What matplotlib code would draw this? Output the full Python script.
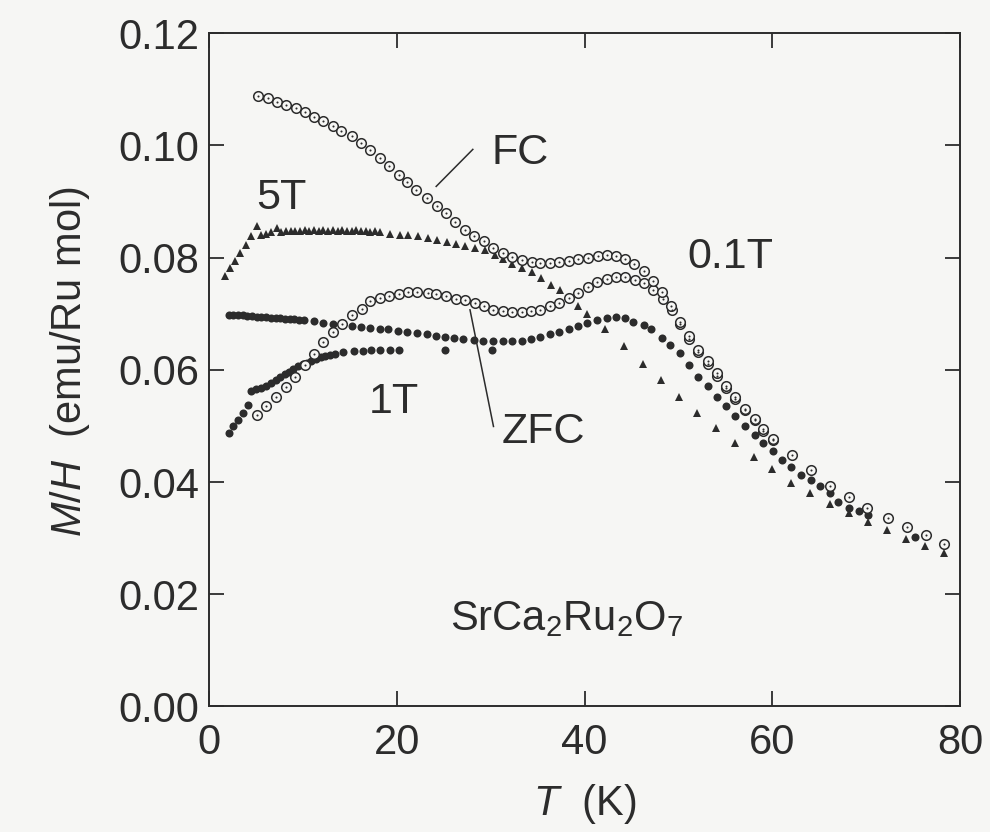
import matplotlib
matplotlib.use("Agg")
import matplotlib.pyplot as plt

plt.rcParams['font.family'] = ['Liberation Sans', 'DejaVu Sans']
plt.rcParams['mathtext.fontset'] = 'custom'
plt.rcParams['mathtext.rm'] = 'Liberation Sans'
plt.rcParams['mathtext.it'] = 'Liberation Sans:italic'

ink = '#2c2c2c'
paper = '#f6f6f4'

# 0.1 T, field cooled (open circles)
T_fc = [5.2, 6.3, 7.3, 8.2, 9.3, 10.2, 11.2, 12.2, 13.2, 14.1,
        15.2, 16.2, 17.2, 18.2, 19.2, 20.2, 21.1, 22.1, 23.2, 24.3,
        25.2, 26.2, 27.3, 28.2, 29.3, 30.3, 31.3, 32.3, 33.3, 34.4,
        35.3, 36.3, 37.3, 38.3, 39.3, 40.4, 41.4, 42.4, 43.3, 44.3,
        45.3, 46.3, 47.3, 48.2, 49.2, 50.2, 51.1, 52.1, 53.1, 54.1,
        55.1, 56.0, 57.1, 58.1, 59.0, 60.1,
        62.1, 64.1, 66.1, 68.2, 70.1, 72.3, 74.3, 76.3, 78.3]
M_fc = [0.1089, 0.1084, 0.1078, 0.1073, 0.1066, 0.1059, 0.1051, 0.1044, 0.1035, 0.1026,
        0.1016, 0.1005, 0.0992, 0.0978, 0.0963, 0.0948, 0.0935, 0.0920, 0.0907, 0.0892,
        0.0879, 0.0863, 0.0850, 0.0839, 0.0829, 0.0817, 0.0808, 0.0801, 0.0795, 0.0792,
        0.0791, 0.0791, 0.0792, 0.0794, 0.0797, 0.0800, 0.0803, 0.0804, 0.0803, 0.0798,
        0.0789, 0.0776, 0.0758, 0.0738, 0.0714, 0.0686, 0.0660, 0.0636, 0.0615, 0.0594,
        0.0572, 0.0552, 0.0531, 0.0513, 0.0495, 0.0477,
        0.0448, 0.0421, 0.0393, 0.0374, 0.0354, 0.0335, 0.0320, 0.0305, 0.0289]

# 0.1 T, zero field cooled (open circles)
T_zfc = [5.1, 6.1, 7.1, 8.2, 9.2, 10.2, 11.2, 12.2, 13.2, 14.2,
         15.2, 16.3, 17.2, 18.2, 19.2, 20.2, 21.2, 22.2, 23.3, 24.2,
         25.2, 26.3, 27.3, 28.3, 29.3, 30.3, 31.3, 32.3, 33.3, 34.3,
         35.2, 36.3, 37.3, 38.3, 39.3, 40.4, 41.3, 42.4, 43.3, 44.3,
         45.4, 46.3, 47.3, 48.3, 49.3, 50.2, 51.1, 52.1, 53.1, 54.1,
         55.1, 56.0, 57.1, 58.1, 59.0, 60.1]
M_zfc = [0.0520, 0.0535, 0.0551, 0.0570, 0.0588, 0.0608, 0.0628, 0.0649, 0.0667, 0.0682,
         0.0697, 0.0709, 0.0722, 0.0728, 0.0732, 0.0736, 0.0738, 0.0738, 0.0737, 0.0735,
         0.0731, 0.0726, 0.0724, 0.0719, 0.0713, 0.0707, 0.0704, 0.0703, 0.0703, 0.0704,
         0.0707, 0.0713, 0.0720, 0.0728, 0.0737, 0.0748, 0.0756, 0.0762, 0.0766, 0.0766,
         0.0761, 0.0755, 0.0743, 0.0726, 0.0707, 0.0681, 0.0655, 0.0631, 0.0610, 0.0589,
         0.0568, 0.0548, 0.0528, 0.0510, 0.0491, 0.0474]

# 1 T, upper branch (filled circles)
T_1a = [2.1, 2.6, 3.1, 3.6, 4.1, 4.6, 5.1, 5.6, 6.1, 6.6, 7.1, 7.6, 8.1, 8.6, 9.1, 9.6, 10.1,
        11.2, 12.2, 13.2, 14.2, 15.2, 16.2, 17.1, 18.2, 19.1, 20.1, 21.1, 22.2, 23.2, 24.2,
        25.1, 26.1, 27.1, 28.2, 29.2, 30.2, 31.3, 32.3, 33.3, 34.3, 35.3, 36.3, 37.3, 38.3,
        39.3, 40.3, 41.3, 42.4, 43.3, 44.3, 45.2, 46.3, 47.1, 48.2, 49.1, 50.2, 51.1, 52.1,
        53.1, 54.1, 55.1, 56.0, 57.1, 58.1, 59.0, 60.1, 61.0, 62.0, 63.0, 64.1, 65.1, 66.1,
        67.0, 68.1, 69.2, 70.2, 75.2]
M_1a = [0.0698, 0.0698, 0.0697, 0.0697, 0.0696, 0.0696, 0.0695, 0.0695, 0.0694, 0.0693,
        0.0693, 0.0692, 0.0691, 0.0691, 0.0690, 0.0689, 0.0688,
        0.0687, 0.0684, 0.0682, 0.0680, 0.0679, 0.0676, 0.0674, 0.0673, 0.0672, 0.0670,
        0.0668, 0.0666, 0.0663, 0.0661, 0.0659, 0.0657, 0.0655, 0.0653, 0.0652, 0.0651,
        0.0651, 0.0651, 0.0652, 0.0655, 0.0658, 0.0663, 0.0668, 0.0673, 0.0678, 0.0684,
        0.0689, 0.0692, 0.0694, 0.0692, 0.0686, 0.0680, 0.0672, 0.0657, 0.0645, 0.0630,
        0.0609, 0.0588, 0.0571, 0.0552, 0.0535, 0.0517, 0.0500, 0.0484, 0.0469, 0.0456,
        0.0439, 0.0426, 0.0412, 0.0404, 0.0393, 0.0380, 0.0365, 0.0353, 0.0348, 0.0341,
        0.0302]

# 1 T, lower branch (filled circles)
T_1b = [2.1, 2.6, 3.1, 3.6, 4.2, 4.5, 5.0, 5.6, 6.1, 6.6, 7.1, 7.6, 8.1, 8.5, 9.0, 9.5,
        10.0, 10.4, 10.9, 11.4, 11.9, 12.4, 12.9, 13.4, 14.3, 15.4, 16.4, 17.3, 18.2, 19.3,
        20.2, 25.1, 30.1]
M_1b = [0.0488, 0.0499, 0.0511, 0.0523, 0.0538, 0.0563, 0.0565, 0.0567, 0.0572, 0.0577,
        0.0582, 0.0588, 0.0593, 0.0597, 0.0602, 0.0606, 0.0610, 0.0613, 0.0616, 0.0619,
        0.0622, 0.0625, 0.0627, 0.0629, 0.0631, 0.0633, 0.0634, 0.0635, 0.0635, 0.0635,
        0.0636, 0.0636, 0.0636]

# 5 T (filled triangles)
T_5 = [1.7, 2.2, 2.8, 3.3, 4.0, 4.5, 5.1, 5.6, 6.1, 6.6,
       7.2, 7.7, 8.2, 8.7, 9.2, 9.7, 10.2, 10.7, 11.2, 11.7,
       12.2, 12.7, 13.2, 13.7, 14.2, 14.7, 15.2, 15.7, 16.2, 16.7,
       17.2, 17.7, 18.2, 19.3, 20.3, 21.2, 22.3, 23.3, 24.3, 25.3,
       26.3, 27.3, 28.3, 29.4, 30.5, 31.3, 32.3, 33.3, 34.4, 35.4,
       36.4, 37.4, 38.3, 39.3, 40.3, 42.2, 44.2, 46.2, 48.1, 50.0,
       52.0, 54.0, 56.0, 58.0, 60.0, 62.0, 64.0, 66.1, 68.1, 70.2,
       72.2, 74.2, 76.2, 78.3]
M_5 = [0.0767, 0.0782, 0.0794, 0.0808, 0.0823, 0.0838, 0.0856, 0.0841, 0.0843, 0.0845,
       0.0852, 0.0846, 0.0847, 0.0848, 0.0847, 0.0848, 0.0849, 0.0848, 0.0849, 0.0848,
       0.0849, 0.0848, 0.0849, 0.0848, 0.0850, 0.0848, 0.0848, 0.0849, 0.0847, 0.0848,
       0.0846, 0.0847, 0.0845, 0.0843, 0.0841, 0.0840, 0.0838, 0.0835, 0.0832, 0.0828,
       0.0824, 0.0821, 0.0818, 0.0814, 0.0805, 0.0798, 0.0789, 0.0782, 0.0774, 0.0764,
       0.0752, 0.0742, 0.0728, 0.0714, 0.0700, 0.0673, 0.0643, 0.0611, 0.0582, 0.0551,
       0.0523, 0.0496, 0.0470, 0.0444, 0.0423, 0.0399, 0.0380, 0.0361, 0.0345, 0.0329,
       0.0314, 0.0298, 0.0286, 0.0273]

x_ticks = [0, 20, 40, 60, 80]
y_ticks = [0.00, 0.02, 0.04, 0.06, 0.08, 0.10, 0.12]

fig = plt.figure(figsize=(9.9, 8.32), dpi=100, facecolor=paper)
ax = fig.add_axes([0.211, 0.151, 0.759, 0.809], facecolor=paper)

# triangles and filled circles
ax.plot(T_5, M_5, '^', color=ink, ms=6, mew=0, zorder=3)
ax.plot(T_1a, M_1a, 'o', color=ink, ms=5.8, mew=0, zorder=3)
ax.plot(T_1b, M_1b, 'o', color=ink, ms=5.8, mew=0, zorder=3)

# open circles with a centre dot
for tt, mm in [(T_zfc, M_zfc), (T_fc, M_fc)]:
    ax.plot(tt, mm, 'o', mfc=paper, mec=ink, ms=6.9, mew=1.1, zorder=4)
    ax.plot(tt, mm, 'o', color=ink, ms=1.5, mew=0, zorder=5)

# labels and pointer lines
fs = 31
ax.text(7.7, 0.0907, '5T', fontsize=fs, color=ink, ha='center', va='center')
ax.text(33.1, 0.0987, 'FC', fontsize=fs, color=ink, ha='center', va='center')
ax.plot([24.2, 28.1], [0.0927, 0.0993], color=ink, lw=1.1)
ax.text(55.5, 0.0802, '0.1T', fontsize=fs, color=ink, ha='center', va='center')
ax.text(19.7, 0.0543, '1T', fontsize=fs, color=ink, ha='center', va='center')
ax.text(35.6, 0.0489, 'ZFC', fontsize=fs, color=ink, ha='center', va='center')
ax.plot([27.8, 30.3], [0.0707, 0.0499], color=ink, lw=1.1)
ax.text(25.7, 0.0136, r'$\mathregular{SrCa_2Ru_2O_7}$', fontsize=fs - 1, color=ink,
        ha='left', va='baseline')

ax.set_xlim(0, 80)
ax.set_ylim(0, 0.12)
ax.set_xticks(x_ticks)
ax.set_yticks(y_ticks)
ax.set_yticklabels([f'{v:.2f}' for v in y_ticks])
ax.tick_params(direction='in', top=True, right=True, length=11, width=1.3,
               labelsize=30, colors=ink, pad=7)
ax.tick_params(axis='x', pad=12)
for s in ax.spines.values():
    s.set_linewidth(1.4)
    s.set_color(ink)

ax.set_xlabel(r'$T$  (K)', fontsize=30, color=ink, labelpad=14)
ax.set_ylabel(r'$M/H$  (emu/Ru mol)', fontsize=30, color=ink)
ax.yaxis.set_label_coords(-0.155, 0.513)

fig.savefig('out.png', dpi=100, facecolor=paper)
